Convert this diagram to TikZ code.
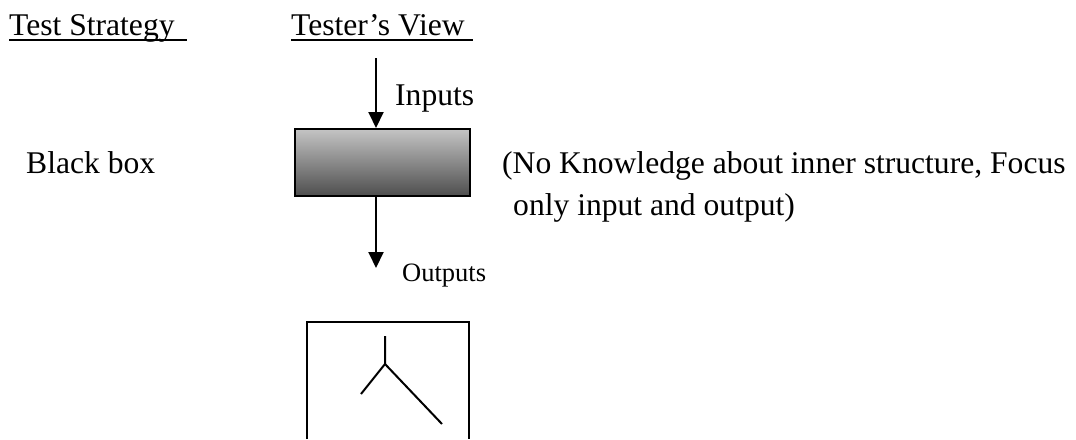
\documentclass[tikz,border=0pt]{standalone}
\usepackage{fontspec}
\setmainfont{Liberation Serif}
\usetikzlibrary{arrows.meta}
\definecolor{boxtop}{RGB}{196,196,196}
\definecolor{boxbot}{RGB}{78,78,78}
\begin{document}
\begin{tikzpicture}[x=1pt,y=-1pt,
  txt/.style={inner sep=0pt,anchor=base west,font=\fontsize{31.6}{38}\selectfont},
  smalltxt/.style={inner sep=0pt,anchor=base west,font=\fontsize{26.5}{31}\selectfont},
  uline/.style={line width=2pt},
  flow/.style={line width=2pt,-{Triangle[length=16pt,width=15pt]}},
  blackbox/.style={draw,line width=2pt,minimum width=175pt,minimum height=67pt,
    inner sep=0pt,top color=boxtop,bottom color=boxbot},
  thin/.style={line width=2pt}]
\useasboundingbox (0,0) rectangle (1076,439);

% column headings
\node[txt] (ts) at (9,35) {Test Strategy};
\node[txt] (tv) at (291,35) {Tester’s View};
\draw[uline] ([yshift=-5pt]ts.base west) -- ++(178,0);
\draw[uline] ([yshift=-5pt]tv.base west) -- ++(182,0);

% black box with its inputs and outputs
\node[blackbox] (bb) at (382.5,162.5) {};
\coordinate (in) at (376,58);
\coordinate (outtip) at (376,268);
\draw[flow] (in) -- (bb.north -| in);
\draw[flow] (bb.south -| in) -- (outtip);
\node[txt] (inl) at (395,105) {Inputs};
\node[smalltxt] (outl) at (402,281) {Outputs};

% labels beside the box
\node[txt] (bl) at (26,173) {Black box};
\node[txt] (d1) at (502,173) {(No Knowledge about inner structure, Focus};
\node[txt] (d2) at (513,215) {only input and output)};

% second view: box showing the inner structure
\coordinate (wl) at (307,439);
\coordinate (wtl) at (307,322);
\coordinate (wtr) at (469,322);
\coordinate (wr) at (469,439);
\draw[thin] (wl) -- (wtl) -- (wtr) -- (wr);
\coordinate (root) at (385,336);
\coordinate (fork) at (385,364);
\coordinate (lleaf) at (361,394);
\coordinate (rleaf) at (442,424);
\draw[thin] (root) -- (fork) -- (lleaf);
\draw[thin] (fork) -- (rleaf);
\end{tikzpicture}
\end{document}
